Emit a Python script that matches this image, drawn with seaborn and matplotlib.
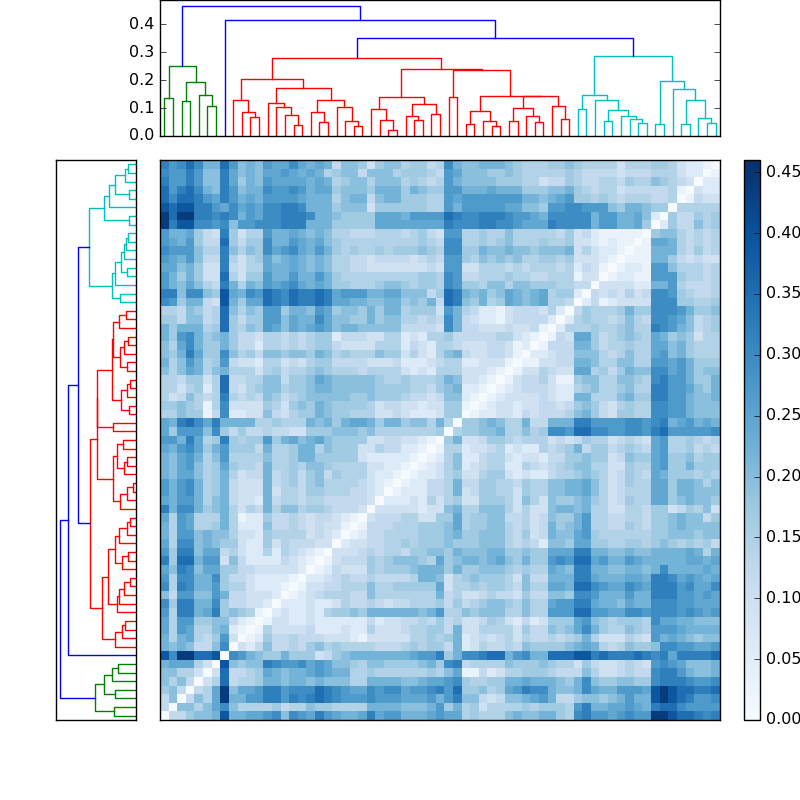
import numpy as np
import matplotlib
matplotlib.use("Agg")
import matplotlib.pyplot as plt
import seaborn as sns

# dendrogram heights (None is a leaf)
L = None
GREEN = (.25, (.135, L, L), (.194, (.125, L, L), (.146, L, (.108, L, L))))
RED_LEFT = (.204, (.13, L, (.087, L, (.068, L, L))),
            (.173, (.117, L, (.102, L, (.075, L, (.039, L, L)))),
             (.13, (.085, L, (.051, L, L)), (.105, L, (.055, L, (.036, L, L))))))
RED_RIGHT = (.239,
             (.138, (.095, L, (.056, L, (.021, L, L))),
              (.115, (.071, L, (.056, L, L)), (.077, L, L))),
             (.2345, (.14, L, L),
              (.143, (.089, (.042, L, L), (.054, L, (.036, L, L))),
               (.142, (.099, (.052, L, L), (.071, L, (.051, L, L))),
                (.106, L, (.06, L, L))))))
RED = (.277, RED_LEFT, RED_RIGHT)
CYAN = (.287,
        (.148, (.095, L, L),
         (.129, L, (.094, (.052, L, L), (.073, L, (.062, L, (.046, L, L)))))),
        (.196, (.044, L, L),
         (.167, L, (.129, (.042, L, L), (.065, L, (.048, L, L))))))
ROOT = (.464, GREEN, (.415, L, (.35, RED, CYAN)))
CLUSTER_COLORS = {id(GREEN): (0, .5, 0), id(RED): (1, 0, 0), id(CYAN): (0, .75, .75)}

# distances above the diagonal, top row first, one hex digit per cell
LEVELS = [0, .03, .06, .09, .12, .145, .17, .195, .22, .245, .27, .295, .32, .35, .39, .44]
DIST_ROWS = [
    "cabdb88da7 87a99b9898 4776367756 645b877888 7655566765 5553555665 3221",
    "baaca77c97 8799a98985 6774777566 654a977766 7655555654 4443444555 322",
    "caaca77c96 87a9999898 5677577756 545a877776 6655344654 4554655765 43",
    "dacdb87ca7 88baaba899 6777688868 766aa88898 8866677865 4553444445 1",
    "dbddca9ca8 98aaaa9888 5788478866 655a9aaaaa aa88789a66 5654555445",
    "edeecca9b9 a9bbccb888 6777366666 655a8aaaaa 9977 6aabba aa76887 66",
    "fdffccbcb8 a9bbcccb88 7666699 98a aaadcbbccc baa98bbbbb 8aa88972",
    "fceebbab7a abbbccc888 6666699999 999cbbbccb ba999cbbbb 8aa8896",
    "a88964 3c63 55a8898787 5544455545 643aa55655 7555554634 211111",
    "a98a644d64 66b88a9897 6555555555 654bb55656 7555655633 21211",
    "baaa755c75 76b9ab98a8 6565565666 765bb66877 8776777835 3221",
    "a98a744c53 5697898787 5544344443 454aa65767 6755665633 321",
    "9978633c43 5598898787 5544333333 343aa33555 4545554524 31",
    "a8686 33d53 66a88a88a8 6555555555 665ba44555 6554455513 3",
    "a8797 54c85 87a9ab9898 6655567765 665ba66577 5776665544",
    "cc7bb76e98 badcbdccdc 9aaa889977 746dc87867 98789 5662",
    "ba688 43e86 99dcbdccdc 9988778867 684dc76856 98789554",
    "5547645d75 76aa688 7a9 6776868856 663a854221 3444352",
    "6647745d64 66aa798 8b9 7766867755 454b843221 344442",
    "8688856d65 76a9798 9a9 7887777744 443b844333 43341",
    "86ab8678 64 435545 4566 2444335523 255644 4445 5321",
    "759b866864 4255454566 4333355524 3255433344 312",
    "768c966b75 6477677687 5655576635 3257843344 31",
    "857a856a43 3255343566 4444333422 2345522333 1",
    "7579857855 5356455676 5554555532 3255533321",
    "5546635d44 5577466798 7777765565 556873321",
    "5535625d43 5677566788 7777766665 54678221",
    "5347545c54 5476456777 7766766654 4347721",
    "6676515b33 3365367687 6666534433 233661",
    "5576614b22 3374356687 6655533432 22366",
    "98cdb9c888 8556555878 6899868867 7585",
    "96aaa7b646 4454433666 7776755555 556",
    "aa8c956c65 66a6897897 6666334433 21",
    "98ab968a66 6485568857 6663354422 1",
    "879a857a55 5575568866 6663222221",
    "879a7569 65 5485565776 555533221",
    "87997568 53 4484564674 65553221",
    "a8ab856843 3384564675 5554321",
    "a8ab856843 3383554665 554432",
    "98aa857843 3284554554 44443",
    "c8bb867853 5485775665 4443",
    "95a9555851 2264454344 321",
    "85a9556852 2274454343 31",
    "85aa787753 3265555343 2",
    "95bb787663 2263544433",
    "a6cc799453 2252543 21",
    "c6dd8aa374 2222432 1",
    "97cb799664 4333332",
    "a5bb88b644 322221",
    "b5cb88a655 32221",
    "74aa77a844 3332",
    "b6cc88b644 332",
    "a5cc89c676 51",
    "95aa667742 1",
    "95a9557821",
    "858 954 6a3",
    "87874 47b",
    "ebffdde",
    "899953",
    "77553",
    "7574",
    "674",
    "47",
    "4",
]
TICKS_CBAR = [0, .05, .1, .15, .2, .25, .3, .35, .4, .45]
TICKS_DEND = [0, .1, .2, .3, .4]
VMAX = 0.46
DEND_MAX = 0.486


def draw_tree(node, ax, next_leaf, color, vertical):
    # returns the position of the node along the leaf axis and its height
    if node is None:
        pos = next_leaf[0] + 0.5
        next_leaf[0] += 1
        return pos, 0.0
    height, left, right = node
    color = CLUSTER_COLORS.get(id(node), color)
    x0, h0 = draw_tree(left, ax, next_leaf, color, vertical)
    x1, h1 = draw_tree(right, ax, next_leaf, color, vertical)
    xs, hs = [x0, x0, x1, x1], [h0, height, height, h1]
    if vertical:
        ax.plot(xs, hs, color=color, lw=1)
    else:
        ax.plot(hs, xs, color=color, lw=1)
    return (x0 + x1) / 2, height


rows = [r.replace(" ", "") for r in DIST_ROWS]
n = len(rows) + 1
mat = np.zeros((n, n))
for t, row in enumerate(rows):
    assert len(row) == n - 1 - t, f"row {t} has {len(row)} cells"
    for c, ch in enumerate(row):
        mat[t, c] = LEVELS[int(ch, 16)]
        mat[n - 1 - c, n - 1 - t] = mat[t, c]

plt.style.use("classic")
plt.rcParams["font.size"] = 11.5
fig = plt.figure(figsize=(8, 8), dpi=100, facecolor="white")

ax_top = fig.add_axes([0.2, 0.83, 0.7, 0.17])
draw_tree(ROOT, ax_top, [0], (0, 0, 1), True)
ax_top.set_xlim(0, n)
ax_top.set_ylim(0, DEND_MAX)
ax_top.set_xticks([])
ax_top.set_yticks(TICKS_DEND)
ax_top.tick_params(labelsize=11.5)

ax_left = fig.add_axes([0.07, 0.1, 0.1, 0.7])
draw_tree(ROOT, ax_left, [0], (0, 0, 1), False)
ax_left.set_xlim(DEND_MAX, 0)
ax_left.set_ylim(0, n)
ax_left.set_xticks([])
ax_left.set_yticks([])

ax_heat = fig.add_axes([0.2, 0.1, 0.7, 0.7])
ax_cbar = fig.add_axes([0.93, 0.1, 0.02, 0.7])
sns.heatmap(mat, ax=ax_heat, cbar_ax=ax_cbar, cmap="Blues", vmin=0, vmax=VMAX,
            xticklabels=False, yticklabels=False,
            cbar_kws={"ticks": TICKS_CBAR, "format": "%.2f"})
for spine in ax_heat.spines.values():
    spine.set_visible(True)
ax_heat.collections[0].colorbar.outline.set_linewidth(1)
ax_cbar.tick_params(labelsize=11.5)

plt.savefig("out.png", dpi=100)
